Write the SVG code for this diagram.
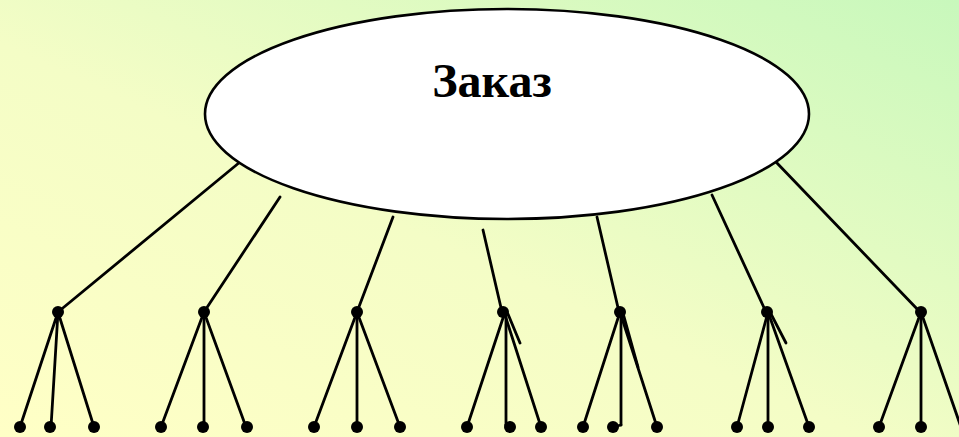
<svg xmlns="http://www.w3.org/2000/svg" width="959" height="437" viewBox="0 0 959 437">
  <defs>
    <linearGradient id="bg" x1="0" y1="1" x2="1" y2="0">
      <stop offset="0" stop-color="#ffffc6"/>
      <stop offset="0.45" stop-color="#f4fdc6"/>
      <stop offset="1" stop-color="#c8f8bc"/>
    </linearGradient>
    <style>
      .edge { stroke: #000; stroke-width: 2.8; fill: none; stroke-linecap: round; }
      .dot { fill: #000; }
      .title { font-family: "Liberation Serif", "Times New Roman", serif; font-weight: bold; font-size: 48px; fill: #000; }
    </style>
  </defs>

  <rect x="0" y="0" width="959" height="437" fill="url(#bg)"/>

  <!-- connectors from the root to each sub-node and from sub-nodes to leaves -->
  <g id="connectors" class="edge">
    <line x1="240" y1="162" x2="58" y2="312"/>
    <line x1="280" y1="197" x2="204" y2="312"/>
    <line x1="393" y1="217" x2="357" y2="312"/>
    <line x1="483" y1="230" x2="502" y2="312"/>
    <line x1="597" y1="217" x2="619" y2="312"/>
    <line x1="712" y1="195" x2="766" y2="312"/>
    <line x1="776" y1="162" x2="920" y2="312"/>

    <line x1="58" y1="312" x2="20" y2="427"/>
    <line x1="58" y1="312" x2="51" y2="427"/>
    <line x1="58" y1="312" x2="94" y2="427"/>

    <line x1="204" y1="312" x2="161" y2="427"/>
    <line x1="204" y1="312" x2="204" y2="427"/>
    <line x1="204" y1="312" x2="246" y2="427"/>

    <line x1="357" y1="312" x2="314" y2="427"/>
    <line x1="357" y1="312" x2="357" y2="427"/>
    <line x1="357" y1="312" x2="400" y2="427"/>

    <line x1="505" y1="312" x2="467" y2="427"/>
    <line x1="506" y1="312" x2="506" y2="425"/>
    <line x1="506" y1="425" x2="510" y2="427"/>
    <line x1="504" y1="312" x2="541" y2="427"/>
    <line x1="508" y1="314" x2="520" y2="343"/>

    <line x1="620" y1="312" x2="583" y2="427"/>
    <line x1="621" y1="312" x2="621" y2="425"/>
    <line x1="621" y1="425" x2="613" y2="427"/>
    <line x1="620" y1="312" x2="657" y2="427"/>
    <line x1="623" y1="313" x2="638" y2="367"/>

    <line x1="768" y1="312" x2="737" y2="427"/>
    <line x1="768" y1="312" x2="768" y2="427"/>
    <line x1="768" y1="312" x2="809" y2="427"/>
    <line x1="771" y1="314" x2="786" y2="343"/>

    <line x1="921" y1="312" x2="879" y2="427"/>
    <line x1="921" y1="312" x2="921" y2="427"/>
    <line x1="921" y1="312" x2="962" y2="430"/>
  </g>

  <g id="root">
    <ellipse cx="507" cy="114" rx="302" ry="105" fill="#fff" stroke="#000" stroke-width="2.6"/>
    <text class="title" x="492" y="97" text-anchor="middle">Заказ</text>
  </g>

  <g id="group1" class="dot">
    <circle cx="58" cy="312" r="6"/>
    <circle cx="20" cy="427" r="6"/>
    <circle cx="50" cy="427" r="6"/>
    <circle cx="94" cy="427" r="6"/>
  </g>
  <g id="group2" class="dot">
    <circle cx="204" cy="312" r="6"/>
    <circle cx="161" cy="427" r="6"/>
    <circle cx="203" cy="427" r="6"/>
    <circle cx="247" cy="427" r="6"/>
  </g>
  <g id="group3" class="dot">
    <circle cx="357" cy="312" r="6"/>
    <circle cx="314" cy="427" r="6"/>
    <circle cx="357" cy="427" r="6"/>
    <circle cx="400" cy="427" r="6"/>
  </g>
  <g id="group4" class="dot">
    <circle cx="503" cy="312" r="6"/>
    <circle cx="467" cy="427" r="6"/>
    <circle cx="510" cy="427" r="6"/>
    <circle cx="541" cy="427" r="6"/>
  </g>
  <g id="group5" class="dot">
    <circle cx="620" cy="312" r="6"/>
    <circle cx="583" cy="427" r="6"/>
    <circle cx="613" cy="427" r="6"/>
    <circle cx="657" cy="427" r="6"/>
  </g>
  <g id="group6" class="dot">
    <circle cx="767" cy="312" r="6"/>
    <circle cx="737" cy="427" r="6"/>
    <circle cx="768" cy="427" r="6"/>
    <circle cx="809" cy="427" r="6"/>
  </g>
  <g id="group7" class="dot">
    <circle cx="921" cy="312" r="6"/>
    <circle cx="879" cy="427" r="6"/>
    <circle cx="921" cy="427" r="6"/>
  </g>
</svg>
